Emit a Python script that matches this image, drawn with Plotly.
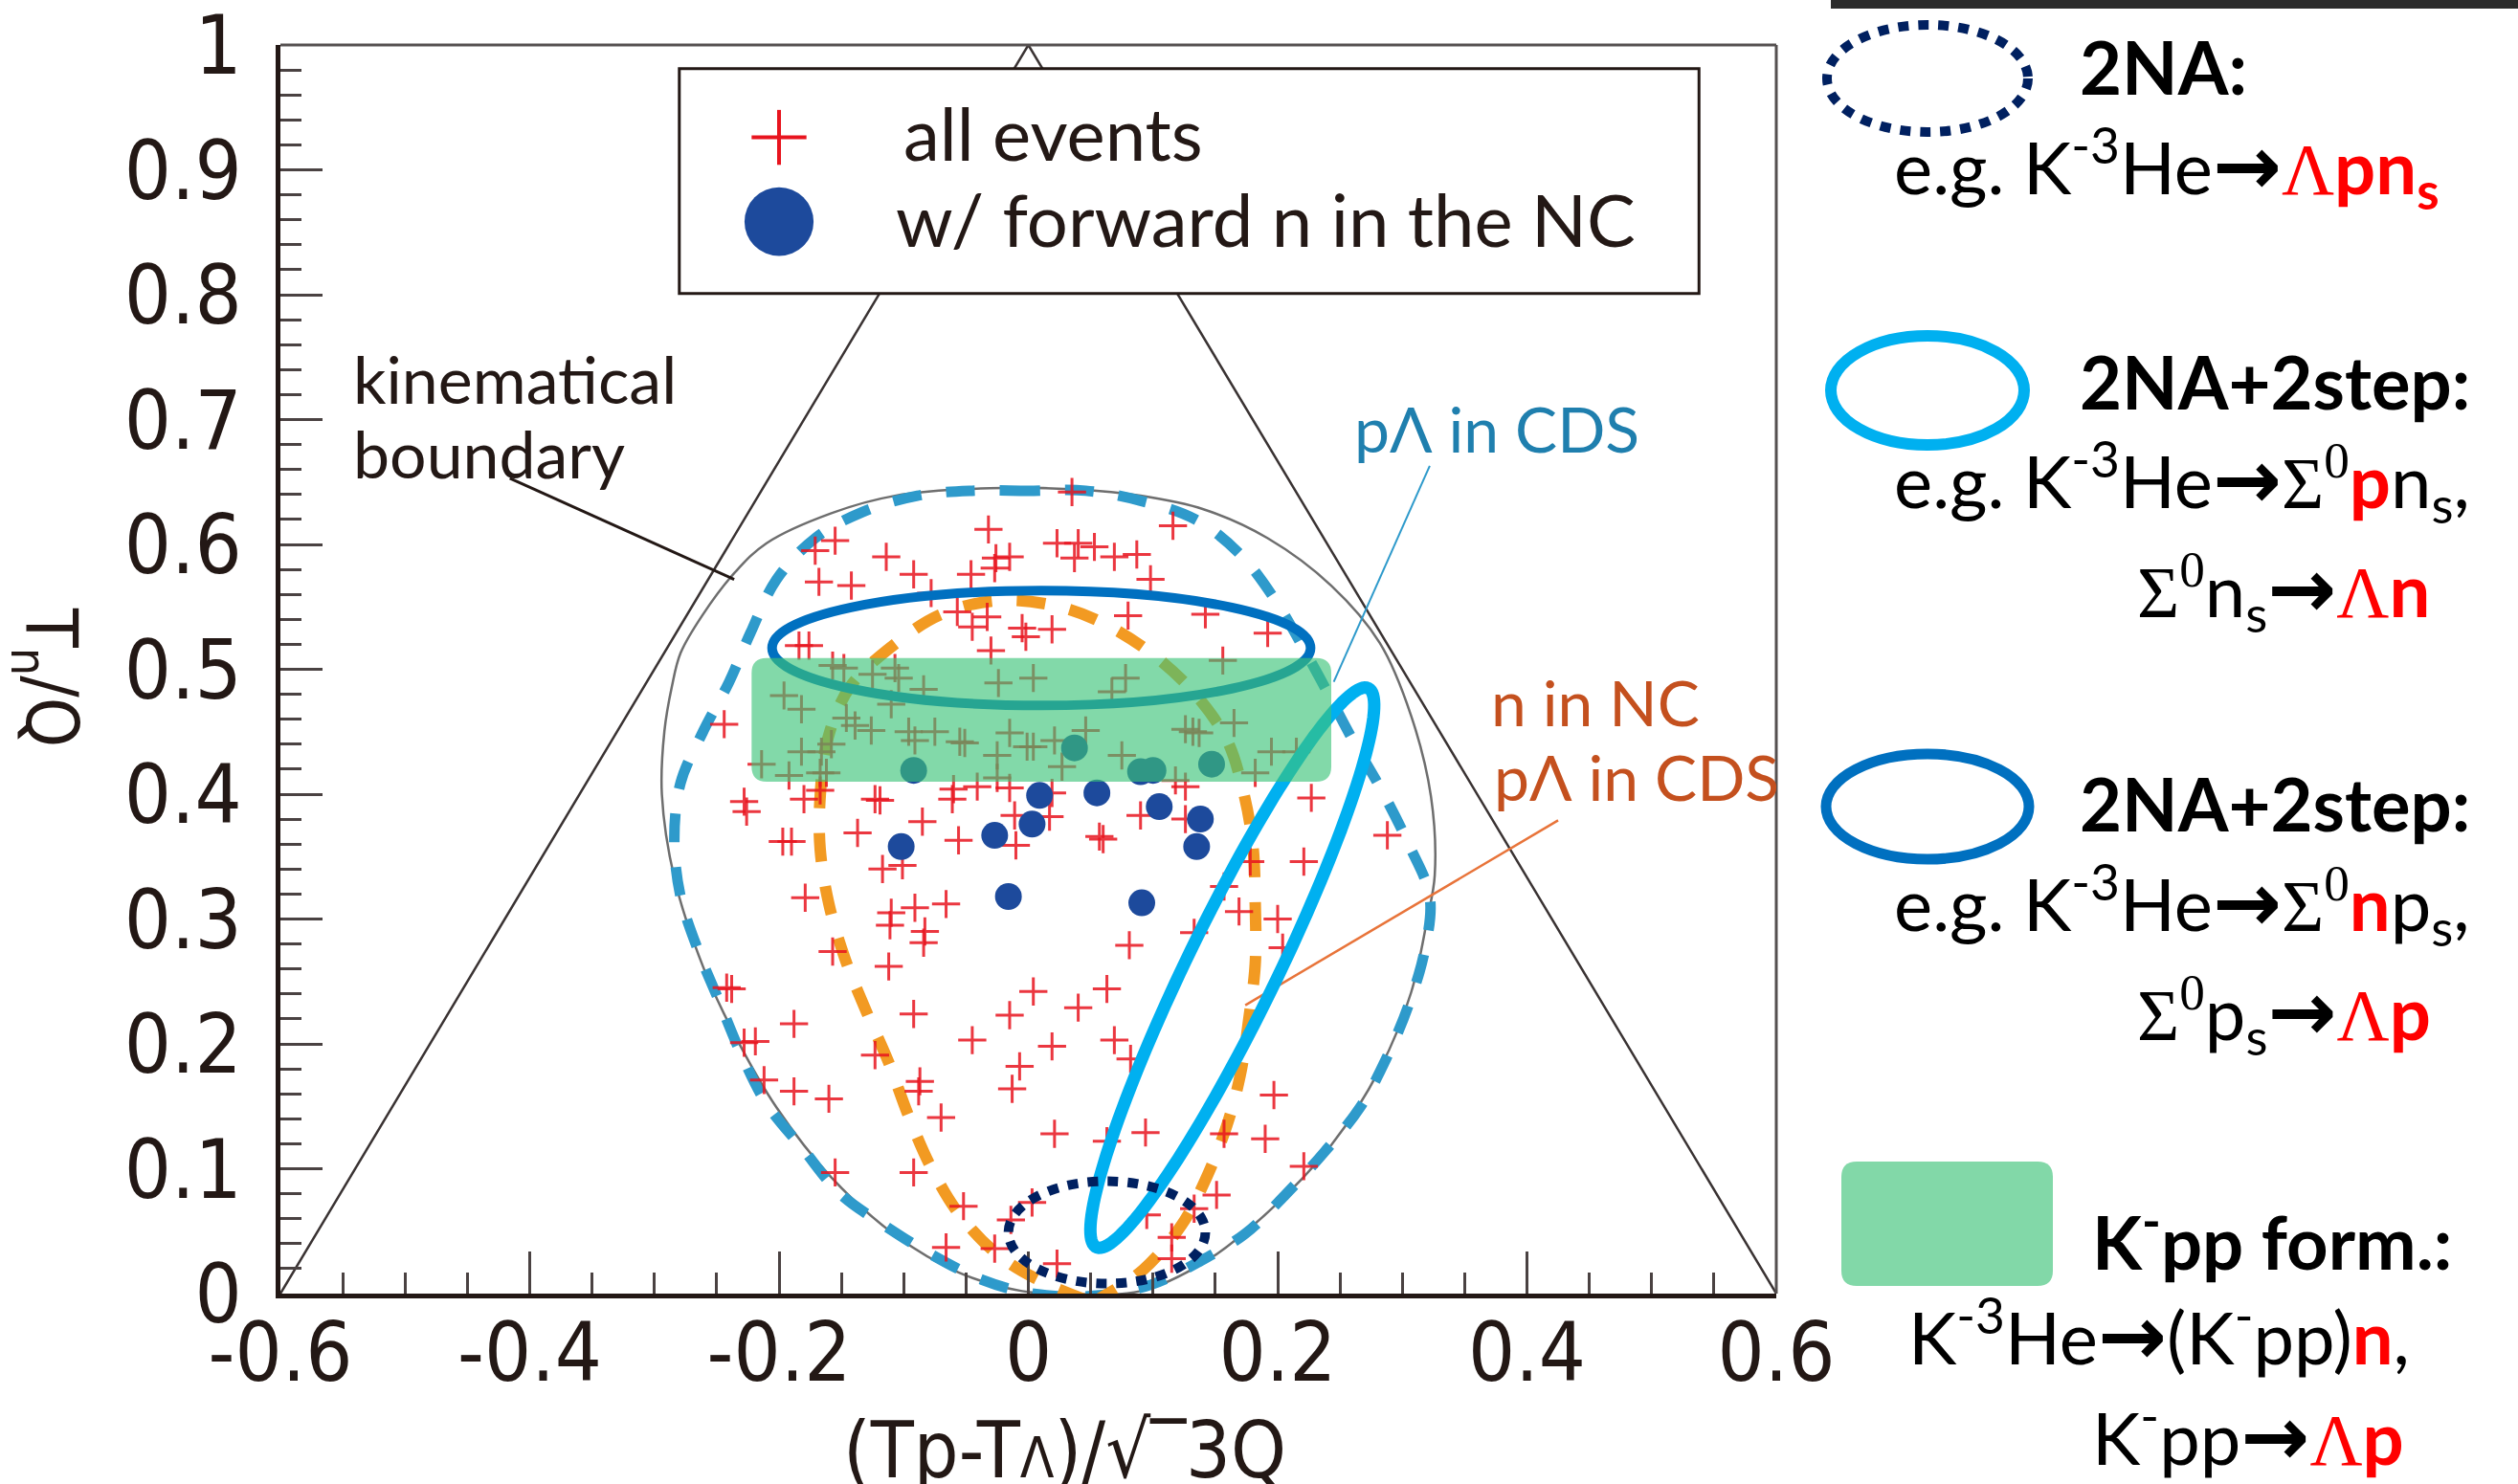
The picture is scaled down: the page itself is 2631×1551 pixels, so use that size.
import numpy as np
import plotly.graph_objects as go

# ---------------- data ----------------
tri_x = [-0.6, 0.0, 0.6]
tri_y = [0.0, 1.0, 0.0]

boundary_x = [0.03, -0.005, -0.056, -0.107, -0.158, -0.202, -0.235, -0.261, -0.284, -0.294, -0.292,
              -0.286, -0.279, -0.261, -0.235, -0.210, -0.158, -0.107, -0.031, 0.038, 0.090, 0.141,
              0.192, 0.243, 0.282, 0.307, 0.323, 0.326, 0.320, 0.307, 0.282, 0.243, 0.192, 0.141,
              0.090, 0.03]
boundary_y = [0.0, 0.002, 0.017, 0.047, 0.093, 0.149, 0.206, 0.262, 0.333, 0.40, 0.45,
              0.486, 0.513, 0.544, 0.578, 0.601, 0.625, 0.639, 0.645, 0.644, 0.639, 0.628,
              0.605, 0.567, 0.521, 0.463, 0.398, 0.335, 0.300, 0.241, 0.180, 0.119, 0.065, 0.025,
              0.002, 0.0]

cds_x = [0.046, 0.0, -0.045, -0.089, -0.133, -0.171, -0.202, -0.223, -0.240, -0.261, -0.279, -0.284,
         -0.279, -0.265, -0.248, -0.230, -0.210, -0.181, -0.151, -0.116, -0.079, -0.037, 0.003, 0.050,
         0.098, 0.136, 0.174, 0.207, 0.238, 0.266, 0.287, 0.305, 0.318, 0.322, 0.305, 0.284, 0.261,
         0.230, 0.197, 0.169, 0.134, 0.090, 0.046]
cds_y = [0.643, 0.643, 0.643, 0.639, 0.626, 0.605, 0.572, 0.529, 0.490, 0.450, 0.409, 0.363,
         0.318, 0.275, 0.234, 0.191, 0.152, 0.116, 0.080, 0.055, 0.032, 0.011, 0.0, -0.002,
         0.007, 0.025, 0.048, 0.080, 0.114, 0.149, 0.188, 0.231, 0.275, 0.318, 0.360, 0.402, 0.442,
         0.500, 0.557, 0.593, 0.620, 0.635, 0.643]

nc_x = [0.046, 0.012, -0.023, -0.055, -0.078, -0.096, -0.112, -0.130, -0.147, -0.160, -0.167, -0.167,
        -0.161, -0.143, -0.106, -0.070, -0.025, 0.021, 0.060, 0.101, 0.134, 0.159, 0.172, 0.180,
        0.182, 0.182, 0.177, 0.170, 0.159, 0.142, 0.123, 0.092, 0.057]
nc_y = [-0.005, 0.009, 0.030, 0.063, 0.101, 0.142, 0.185, 0.226, 0.268, 0.312, 0.356, 0.398,
        0.444, 0.486, 0.521, 0.544, 0.555, 0.551, 0.537, 0.511, 0.480, 0.444, 0.404, 0.360,
        0.313, 0.264, 0.221, 0.175, 0.134, 0.091, 0.055, 0.019, -0.004]

all_x = [0.035, -0.032, -0.155, -0.171, -0.114, 0.023, 0.040, 0.053, 0.037, -0.026,
         -0.015, -0.027, -0.046, -0.092, -0.168, -0.142, -0.078, -0.057, -0.045, -0.033,
         -0.005, -0.002, 0.019, -0.030, -0.184, -0.176, -0.157, -0.148, -0.125, -0.107,
         -0.104, -0.084, -0.024, 0.004, -0.196, -0.182, -0.146, -0.139, -0.126, -0.110,
         -0.096, -0.091, -0.075, -0.055, -0.051, -0.015, -0.001, 0.004, 0.021, 0.046,
         -0.025, -0.025, -0.158, -0.166, -0.182, -0.214, -0.192, -0.167, -0.162, 0.027,
         -0.228, -0.226, -0.180, -0.167, -0.123, -0.119, -0.060, -0.061, -0.041, -0.015,
         -0.011, 0.017, 0.019, -0.085, -0.137, -0.197, -0.190, -0.056, -0.010, 0.057,
         -0.117, -0.101, -0.244,
         0.116, 0.069, 0.087, 0.098, 0.080, 0.142, 0.192, 0.156, 0.078, 0.067,
         0.126, 0.132, 0.137, 0.165, 0.075, 0.195, 0.215, 0.182, 0.118, 0.126,
         0.227, 0.090, 0.126, 0.060, 0.288, 0.178, 0.221,
         -0.179, -0.110, -0.111, -0.091, -0.066, -0.083, -0.084, -0.157, -0.112, -0.242,
         -0.238, 0.004, 0.040, -0.015, -0.188, -0.092, -0.045, 0.019, -0.228, -0.219,
         -0.123, -0.007, -0.087, -0.088, -0.013, -0.212, -0.188, -0.160, -0.070, 0.021,
         -0.155, -0.092, -0.052, 0.003, -0.014, -0.066, -0.027, 0.023,
         0.157, 0.169, 0.200, 0.133, 0.204, 0.081, 0.063, 0.069, 0.082, 0.197,
         0.063, 0.094, 0.157, 0.190, 0.221, 0.151, 0.095, 0.133, 0.115, 0.115]
all_y = [0.642, 0.612, 0.603, 0.595, 0.590, 0.601, 0.601, 0.598, 0.589, 0.589,
         0.590, 0.581, 0.576, 0.576, 0.570, 0.567, 0.561, 0.546, 0.534, 0.542,
         0.533, 0.526, 0.532, 0.515, 0.519, 0.519, 0.503, 0.501, 0.496, 0.501,
         0.493, 0.484, 0.489, 0.493, 0.479, 0.468, 0.461, 0.455, 0.451, 0.472,
         0.450, 0.443, 0.450, 0.442, 0.441, 0.449, 0.438, 0.438, 0.443, 0.451,
         0.431, 0.413, 0.440, 0.434, 0.434, 0.424, 0.415, 0.417, 0.417, 0.422,
         0.394, 0.386, 0.396, 0.403, 0.396, 0.395, 0.404, 0.396, 0.406, 0.405,
         0.383, 0.382, 0.401, 0.378, 0.369, 0.362, 0.362, 0.363, 0.359, 0.366,
         0.340, 0.343, 0.456,
         0.615, 0.590, 0.592, 0.572, 0.543, 0.544, 0.529, 0.507, 0.493, 0.482,
         0.452, 0.450, 0.449, 0.457, 0.431, 0.434, 0.434, 0.417, 0.411, 0.406,
         0.397, 0.383, 0.380, 0.364, 0.367, 0.346, 0.346,
         0.317, 0.305, 0.295, 0.309, 0.312, 0.290, 0.281, 0.274, 0.262, 0.245,
         0.244, 0.242, 0.229, 0.223, 0.216, 0.224, 0.203, 0.198, 0.201, 0.202,
         0.191, 0.182, 0.170, 0.162, 0.164, 0.171, 0.162, 0.156, 0.141, 0.128,
         0.097, 0.097, 0.070, 0.073, 0.059, 0.037, 0.036, 0.024,
         0.326, 0.306, 0.300, 0.289, 0.277, 0.279, 0.244, 0.203, 0.188, 0.159,
         0.122, 0.129, 0.128, 0.124, 0.102, 0.079, 0.063, 0.068, 0.045, 0.028]

nc_evt_x = [-0.092, 0.037, 0.009, 0.003, -0.027, -0.102, 0.090, 0.100, 0.147, 0.055,
            0.105, 0.138, 0.135, -0.016, 0.091]
nc_evt_y = [0.419, 0.437, 0.399, 0.376, 0.367, 0.358, 0.418, 0.419, 0.424, 0.401,
            0.390, 0.380, 0.358, 0.318, 0.313]

x_ticks = [-0.6, -0.4, -0.2, 0.0, 0.2, 0.4, 0.6]
x_ticktext = ["-0.6", "-0.4", "-0.2", "0", "0.2", "0.4", "0.6"]
y_ticks = [0.0, 0.1, 0.2, 0.3, 0.4, 0.5, 0.6, 0.7, 0.8, 0.9, 1.0]
y_ticktext = ["0", "0.1", "0.2", "0.3", "0.4", "0.5", "0.6", "0.7", "0.8", "0.9", "1"]

# ---------------- helpers ----------------
W, H = 2631, 1551
ML, MR, MT, MB = 293, 775, 47, 199
PW, PH = W - ML - MR, H - MT - MB


def PX(px):
    return (px - ML) / PW


def PY(py):
    return (H - MB - py) / PH


def ellipse_path(cx, cy, a, b, ang_deg, n=160):
    t = np.linspace(0, 2 * np.pi, n)
    th = np.deg2rad(ang_deg)
    xs = cx + a * np.cos(t) * np.cos(th) - b * np.sin(t) * np.sin(th)
    ys = cy + a * np.cos(t) * np.sin(th) + b * np.sin(t) * np.cos(th)
    return "M " + " L ".join(f"{x:.5f},{y:.5f}" for x, y in zip(xs, ys)) + " Z"


def rrect_path(x0, y0, x1, y1, rx, ry):
    return (f"M {x0+rx},{y0} L {x1-rx},{y0} Q {x1},{y0} {x1},{y0+ry} "
            f"L {x1},{y1-ry} Q {x1},{y1} {x1-rx},{y1} L {x0+rx},{y1} "
            f"Q {x0},{y1} {x0},{y1-ry} L {x0},{y0+ry} Q {x0},{y0} {x0+rx},{y0} Z")


INK = "#231815"
COND = "DejaVu Sans Condensed, Liberation Sans, Arial, sans-serif"
fig = go.Figure()

fig.add_trace(go.Scatter(x=tri_x, y=tri_y, mode="lines",
                         line=dict(color="#3a3333", width=2.5), hoverinfo="skip"))
fig.add_trace(go.Scatter(x=boundary_x, y=boundary_y, mode="lines",
                         line=dict(color="#6e6e6e", width=2.5, shape="spline"), hoverinfo="skip"))
fig.add_trace(go.Scatter(x=cds_x, y=cds_y, mode="lines",
                         line=dict(color="#2e9acb", width=11, dash="30px,26px", shape="spline"),
                         hoverinfo="skip"))
fig.add_trace(go.Scatter(x=nc_x, y=nc_y, mode="lines",
                         line=dict(color="#f29a22", width=12, dash="30px,26px", shape="spline"),
                         hoverinfo="skip"))
fig.add_trace(go.Scatter(x=all_x, y=all_y, mode="markers", name="all events",
                         marker=dict(symbol="cross-thin", size=21,
                                     line=dict(color="rgba(232,20,30,0.85)", width=3))))
fig.add_trace(go.Scatter(x=nc_evt_x, y=nc_evt_y, mode="markers", name="w/ forward n in the NC",
                         marker=dict(symbol="circle", size=28, color="#1d4a9c")))

shapes = []
# frame top / right
shapes.append(dict(type="line", xref="paper", yref="paper", x0=0, x1=1, y0=1, y1=1,
                   line=dict(color="#555050", width=3), layer="above"))
shapes.append(dict(type="line", xref="paper", yref="paper", x0=1, x1=1, y0=0, y1=1,
                   line=dict(color="#555050", width=3), layer="above"))
# leader lines
shapes.append(dict(type="line", xref="x", yref="y", x0=-0.416, y0=0.653, x1=-0.236, y1=0.572,
                   line=dict(color=INK, width=3), layer="above"))
shapes.append(dict(type="line", xref="x", yref="y", x0=0.322, y0=0.663, x1=0.245, y1=0.490,
                   line=dict(color="#2e9acb", width=2), layer="above"))
shapes.append(dict(type="line", xref="x", yref="y", x0=0.425, y0=0.379, x1=0.174, y1=0.231,
                   line=dict(color="#e8743a", width=2.5), layer="above"))
# hypothesis ellipses
shapes.append(dict(type="circle", xref="x", yref="y", x0=0.0104 - 0.216, x1=0.0104 + 0.216,
                   y0=0.517 - 0.046, y1=0.517 + 0.046, line=dict(color="#0070c0", width=10),
                   layer="above"))
shapes.append(dict(type="path", xref="x", yref="y", path=ellipse_path(0.1636, 0.261, 0.249, 0.036, 64),
                   line=dict(color="#00b0f0", width=13), layer="above"))
shapes.append(dict(type="circle", xref="x", yref="y", x0=0.063 - 0.079, x1=0.063 + 0.079,
                   y0=0.049 - 0.041, y1=0.049 + 0.041,
                   line=dict(color="#002060", width=10, dash="11px,10px"), layer="above"))
# K-pp band
shapes.append(dict(type="path", xref="x", yref="y",
                   path=rrect_path(-0.222, 0.410, 0.243, 0.509, 0.012, 0.012),
                   fillcolor="rgba(60,195,121,0.64)", line=dict(width=0), layer="above"))
# legend box
shapes.append(dict(type="rect", xref="x", yref="y", x0=-0.280, x1=0.538, y0=0.801, y1=0.981,
                   fillcolor="white", line=dict(color=INK, width=3), layer="above"))
shapes.append(dict(type="line", xref="x", yref="y", x0=-0.222, x1=-0.178, y0=0.926, y1=0.926,
                   line=dict(color="#e8141e", width=4), layer="above"))
shapes.append(dict(type="line", xref="x", yref="y", x0=-0.200, x1=-0.200, y0=0.904, y1=0.948,
                   line=dict(color="#e8141e", width=4), layer="above"))
shapes.append(dict(type="circle", xref="x", yref="y", x0=-0.2277, x1=-0.1723, y0=0.831, y1=0.886,
                   fillcolor="#1d4a9c", line=dict(width=0), layer="above"))

# right-hand key
shapes.append(dict(type="rect", xref="paper", yref="paper", x0=PX(1913), x1=PX(2631),
                   y0=PY(9), y1=PY(0), fillcolor="#2b2b2b", line=dict(width=0), layer="above"))
shapes.append(dict(type="circle", xref="paper", yref="paper", x0=PX(2014 - 105), x1=PX(2014 + 105),
                   y0=PY(82 + 56), y1=PY(82 - 56),
                   line=dict(color="#002060", width=10, dash="11px,10px"), layer="above"))
shapes.append(dict(type="circle", xref="paper", yref="paper", x0=PX(2014 - 101), x1=PX(2014 + 101),
                   y0=PY(408 + 57), y1=PY(408 - 57), line=dict(color="#00b0f0", width=12),
                   layer="above"))
shapes.append(dict(type="circle", xref="paper", yref="paper", x0=PX(2014 - 106), x1=PX(2014 + 106),
                   y0=PY(843 + 55), y1=PY(843 - 55), line=dict(color="#0070c0", width=11),
                   layer="above"))
shapes.append(dict(type="path", xref="paper", yref="paper",
                   path=rrect_path(PX(1924), PY(1344), PX(2145), PY(1214), 16 / PW, 16 / PH),
                   fillcolor="#82d8a8", line=dict(width=0), layer="above"))

ann = []
SANS = "Lato"


def txt(x, y, s, size, color=INK, xref="x", yref="y", xanchor="left", yanchor="middle",
        family=SANS, angle=0):
    ann.append(dict(x=x, y=y, xref=xref, yref=yref, text=s, showarrow=False,
                    xanchor=xanchor, yanchor=yanchor, textangle=angle,
                    font=dict(family=family, size=size, color=color)))


# legend text
txt(-0.102, 0.930, "all events", 76)
txt(-0.1075, 0.861, "w/ forward n in the NC", 76)
# in-plot labels
txt(-0.543, 0.733, "kinematical", 68)
txt(-0.543, 0.673, "boundary", 68)
txt(0.260, 0.693, "pΛ in CDS", 66, color="#1f7fae")
txt(0.370, 0.474, "n in NC", 66, color="#c4501e")
txt(0.372, 0.414, "pΛ in CDS", 66, color="#c4501e")
# axis titles
txt(PX(1112), PY(1466), "(Tp-T<span style='font-size:58px'>Λ</span>)/√‾3Q", 82,
    xref="paper", yref="paper", xanchor="center", yanchor="top", family=COND)
txt(PX(49), PY(708), "T<sub>n</sub>/Q", 74, xref="paper", yref="paper", xanchor="center",
    family=COND, angle=90)

# right key text
RED = "#ff0000"
LAM = f"<span style='font-family:Liberation Serif;color:{RED}'>Λ</span>"
SIG0 = "<span style='font-family:Liberation Serif'>Σ<sup>0</sup></span>"
ARW = "<span style='font-family:DejaVu Sans;font-size:86px'><b>→</b></span>"


def rb(s):
    return f"<span style='color:{RED}'><b>{s}</b></span>"


KS = 76
key_lines = [
    (2171, 70, "<b>2NA:</b>"),
    (1977, 174, "e.g. K<sup>-3</sup>He" + ARW + LAM + rb("pn<sub>s</sub>")),
    (2171, 398, "<b>2NA+2step:</b>"),
    (1977, 502, "e.g. K<sup>-3</sup>He" + ARW + SIG0 + rb("p") + "n<sub>s</sub>,"),
    (2231, 618, SIG0 + "n<sub>s</sub>" + ARW + LAM + rb("n")),
    (2171, 840, "<b>2NA+2step:</b>"),
    (1977, 944, "e.g. K<sup>-3</sup>He" + ARW + SIG0 + rb("n") + "p<sub>s</sub>,"),
    (2231, 1060, SIG0 + "p<sub>s</sub>" + ARW + LAM + rb("p")),
    (2184, 1292, "<b>K<sup>-</sup>pp form.:</b>"),
    (1992, 1393, "K<sup>-3</sup>He" + ARW + "(K<sup>-</sup>pp)" + rb("n") + ","),
    (2184, 1498, "K<sup>-</sup>pp" + ARW + LAM + rb("p")),
]
for px, py, s in key_lines:
    txt(PX(px), PY(py), s, KS, color="#000000", xref="paper", yref="paper")

tickfont = dict(family=COND, size=86, color=INK)
fig.update_layout(
    width=W, height=H, margin=dict(l=ML, r=MR, t=MT, b=MB, autoexpand=False),
    plot_bgcolor="white", paper_bgcolor="white", showlegend=False,
    shapes=shapes, annotations=ann,
    xaxis=dict(range=[-0.6, 0.6], tickmode="array", tickvals=x_ticks, ticktext=x_ticktext,
               ticks="inside", ticklen=44, tickwidth=3, tickcolor="#4a4242", automargin=False,
               showline=True, linewidth=5, linecolor=INK, showgrid=False, zeroline=False,
               tickfont=tickfont, ticklabelstandoff=-17, ticklabeloverflow="allow",
               minor=dict(tickmode="linear", tick0=0, dtick=0.05, ticks="inside", ticklen=22,
                          tickwidth=3, tickcolor="#4a4242", showgrid=False)),
    yaxis=dict(range=[0, 1], tickmode="array", tickvals=y_ticks, ticktext=y_ticktext,
               ticks="inside", ticklen=44, tickwidth=3, tickcolor="#4a4242", automargin=False,
               showline=True, linewidth=5, linecolor=INK, showgrid=False, zeroline=False,
               tickfont=tickfont, ticklabelstandoff=18, ticklabeloverflow="allow",
               minor=dict(tickmode="linear", tick0=0, dtick=0.02, ticks="inside", ticklen=22,
                          tickwidth=3, tickcolor="#4a4242", showgrid=False)),
)

fig.write_html("out.html")
